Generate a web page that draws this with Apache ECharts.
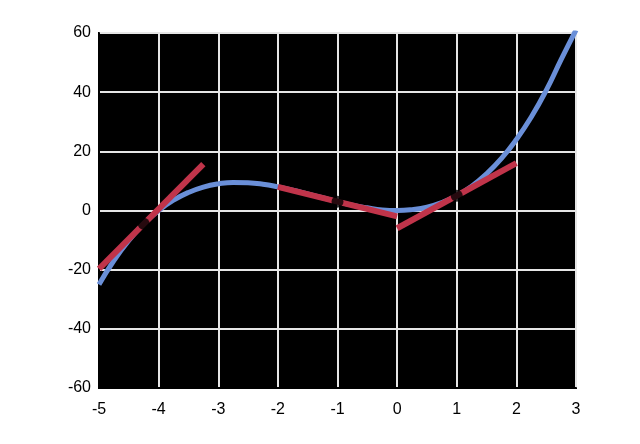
<!DOCTYPE html>
<html>
<head>
<meta charset="utf-8">
<script src="https://cdn.jsdelivr.net/npm/echarts@6/dist/echarts.min.js"></script>
<style>
  html, body { margin: 0; padding: 0; background: #fff; }
  #chart { width: 640px; height: 444px; }
</style>
</head>
<body>
<div id="chart"></div>
<script>
// curve samples
const curveX = [-5, -4.75, -4.5, -4.25, -4, -3.75, -3.5, -3.25, -3, -2.75, -2.5, -2.25, -2, -1.75, -1.5, -1.25, -1,
  -0.75, -0.5, -0.25, 0, 0.25, 0.5, 0.75, 1, 1.25, 1.5, 1.75, 2, 2.25, 2.5, 2.75, 3]
const curveY = [-25, -16.9, -10.1, -4.5, 0, 3.5, 6.1, 7.9, 9, 9.5, 9.4, 8.9, 8, 6.9, 5.6, 4.3, 3,
  1.8, 0.9, 0.2, 0, 0.3, 1.1, 2.7, 5, 8.2, 12.4, 17.6, 24, 31.6, 40.6, 51, 61]

// tangent segments (start, end)
const tangent1 = [[-5, -19.7], [-3.25, 15.7]]
const tangent2 = [[-2, 8], [0, -2]]
const tangent3 = [[0, -6], [2, 16]]

// marked points
const pointsX = [-4.25, -1, 1]
const pointsY = [-4.5, 3, 5]

const xTicks = { min: -5, max: 3, step: 1 }
const yTicks = { min: -60, max: 60, step: 20 }

const chart = echarts.init(document.getElementById('chart'))

const tangentSeries = [tangent1, tangent2, tangent3].map(seg => ({
  type: 'line',
  data: seg,
  symbol: 'none',
  clip: true,
  z: 3,
  lineStyle: { color: '#c0344a', width: 6 }
}))

chart.setOption({
  animation: false,
  backgroundColor: '#fff',
  grid: {
    left: 99,
    right: 64,
    top: 33,
    bottom: 56,
    show: true,
    backgroundColor: '#000',
    borderColor: '#000',
    borderWidth: 2
  },
  xAxis: {
    type: 'value',
    min: xTicks.min,
    max: xTicks.max,
    interval: xTicks.step,
    axisLine: { onZero: false, lineStyle: { color: '#000', width: 2 } },
    axisTick: { show: false },
    axisLabel: { color: '#000', fontSize: 16, margin: 14 },
    splitLine: { lineStyle: { color: '#e6e6e6', width: 2 } }
  },
  yAxis: {
    type: 'value',
    min: yTicks.min,
    max: yTicks.max,
    interval: yTicks.step,
    axisLine: { show: true, onZero: false, lineStyle: { color: '#000', width: 2 } },
    axisTick: { show: false },
    axisLabel: { color: '#000', fontSize: 16, margin: 8 },
    splitLine: { lineStyle: { color: '#e6e6e6', width: 2 } }
  },
  series: [
    {
      type: 'line',
      data: curveX.map((x, i) => [x, curveY[i]]),
      smooth: true,
      symbol: 'none',
      clip: true,
      z: 2,
      lineStyle: { color: '#6a8fd8', width: 5 }
    },
    ...tangentSeries,
    {
      type: 'scatter',
      data: pointsX.map((x, i) => [x, pointsY[i]]),
      symbolSize: 12,
      z: 4,
      itemStyle: { color: '#000' }
    }
  ]
})
</script>
</body>
</html>
